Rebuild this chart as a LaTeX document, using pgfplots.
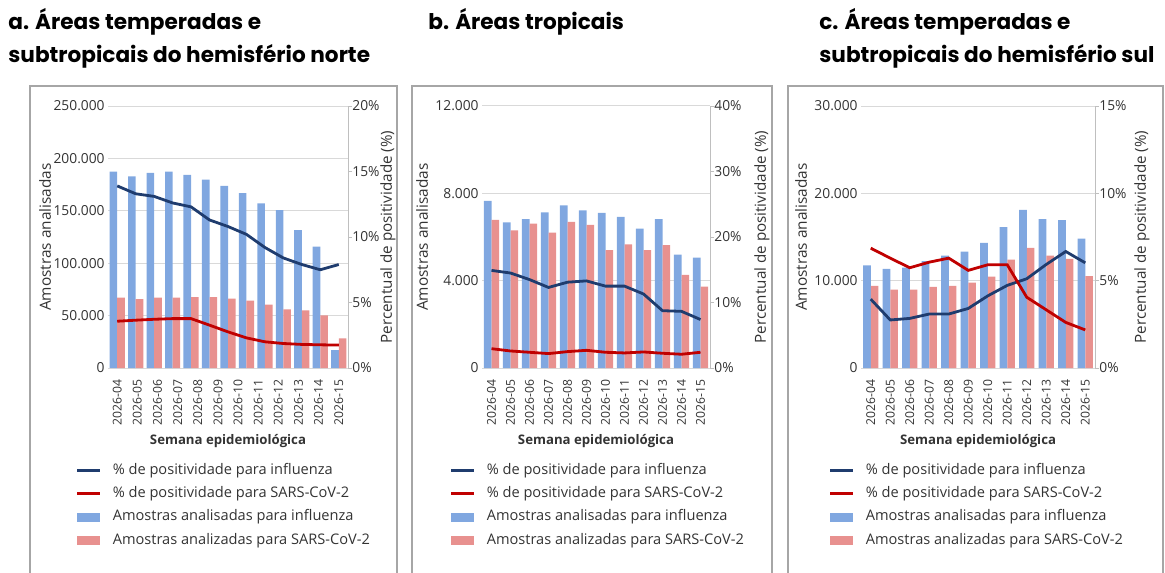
\documentclass[border=0pt]{standalone}
\usepackage{fontspec}
\setmainfont{Open Sans}
\newfontfamily\titlefont{Poppins}
\usepackage{pgfplots}
\pgfplotsset{compat=1.18}
\usepackage{pgfplotstable}

\definecolor{barblue}{HTML}{80A7E0}
\definecolor{barred}{HTML}{E8918F}
\definecolor{lineblue}{HTML}{1F3C6E}
\definecolor{linered}{HTML}{C00000}
\definecolor{gridgray}{HTML}{D9D9D9}
\definecolor{axgray}{HTML}{BFBFBF}
\definecolor{framegray}{HTML}{A6A6A6}
\definecolor{txt}{HTML}{333333}

\pgfplotstableread{
x flu sars pflu psars
0 187300 67100 13.9 3.57
1 182900 65800 13.3 3.65
2 186100 67100 13.1 3.72
3 187300 67100 12.6 3.77
4 184200 67700 12.3 3.77
5 179700 67700 11.3 3.27
6 173700 66100 10.8 2.76
7 166800 64200 10.2 2.30
8 157000 60400 9.2 2.00
9 150600 56000 8.4 1.87
10 131600 55100 7.9 1.80
11 115800 50300 7.5 1.77
12 17100 28200 7.9 1.75
}\dataA

\pgfplotstableread{
x flu sars pflu psars
0 7650 6780 14.9 2.95
1 6670 6300 14.5 2.6
2 6820 6610 13.5 2.4
3 7130 6200 12.3 2.2
4 7450 6690 13.1 2.5
5 7220 6550 13.3 2.7
6 7100 5400 12.5 2.4
7 6920 5660 12.5 2.3
8 6380 5400 11.3 2.45
9 6820 5630 8.75 2.25
10 5190 4260 8.65 2.1
11 5050 3730 7.4 2.4
}\dataB

\pgfplotstableread{
x flu sars pflu psars
0 11740 9390 3.94 6.86
1 11360 8980 2.75 6.29
2 11480 8980 2.84 5.74
3 12230 9280 3.09 6.06
4 12880 9390 3.09 6.29
5 13330 9770 3.41 5.59
6 14320 10450 4.13 5.91
7 16140 12420 4.73 5.91
8 18110 13750 5.11 4.05
9 17050 12880 5.93 3.33
10 16930 12500 6.67 2.61
11 14810 10530 6.02 2.18
}\dataC

\pgfplotsset{
  baraxis/.style={
    scale only axis, anchor=south west,
    axis x line*=bottom, axis y line*=left,
    axis line style={draw=none,-},
    major tick length=0pt,
    ymajorgrids, grid style={gridgray, line width=0.5pt},
    ymin=0, ybar=0pt, bar width=3.8pt,
    tick label style={font=\fontsize{6.9}{7}\selectfont, text=txt},
    scaled y ticks=false,
    xticklabel style={rotate=90, anchor=east, inner sep=0pt, font=\fontsize{6.1}{7}\selectfont},
    xticklabel shift=5.8pt,
    yticklabel style={inner sep=0pt},
    yticklabel shift=1.5pt,
    ylabel={Amostras analisadas},
    xlabel={Semana epidemiológica},
    label style={font=\fontsize{7.7}{8}\selectfont, text=txt},
    xlabel style={font=\bfseries\fontsize{6.6}{7}\selectfont, at={([yshift=-36.5pt]axis description cs:0.5,0)}, anchor=center},
  },
  lineaxis/.style={
    scale only axis, anchor=south west,
    axis x line=none, axis y line*=right,
    y axis line style={axgray, line width=0.5pt, -},
    ytick style={axgray, line width=0.5pt},
    tick align=outside, major tick length=2pt,
    ymin=0,
    tick label style={font=\fontsize{6.9}{7}\selectfont, text=txt},
    yticklabel style={inner sep=0pt},
    yticklabel shift=0pt,
    ylabel={Percentual de positividade (\%)},
    label style={font=\fontsize{7.6}{8}\selectfont, text=txt},
    legend cell align=left,
    legend style={at={([xshift=-16pt, yshift=-48pt]axis description cs:0,0)}, anchor=north west,
      draw=none, fill=none, inner sep=0pt, outer sep=0pt,
      font=\fontsize{7.3}{8}\selectfont, text=txt, row sep=5.3pt,
      nodes={inner sep=0pt, text height=5pt, text depth=1.4pt},
      /tikz/every odd column/.append style={column sep=5.5pt}},
  },
  linelegend/.style={legend image code/.code={\draw[##1] (0pt,0pt) -- (11.5pt,0pt);}},
  barlegend/.style={legend image code/.code={\fill[##1] (0pt,-2.3pt) rectangle (11.5pt,2.3pt);}},
}

\begin{document}
\begin{tikzpicture}
\useasboundingbox (0,0) rectangle (582.5pt,-286pt);
% panel frames
\draw[framegray, line width=0.6pt] (15pt,-300pt) -- (15pt,-43pt) -- (198.5pt,-43pt) -- (198.5pt,-300pt);
\draw[framegray, line width=0.6pt] (206pt,-300pt) -- (206pt,-43pt) -- (386pt,-43pt) -- (386pt,-300pt);
\draw[framegray, line width=0.6pt] (394pt,-300pt) -- (394pt,-43pt) -- (581.5pt,-43pt) -- (581.5pt,-300pt);
% titles
\node[anchor=west, align=left, inner sep=0pt, font=\titlefont\bfseries\fontsize{10.8}{16.5}\selectfont] at (4pt,-19.25pt) {a. Áreas temperadas e\\subtropicais do hemisfério norte};
\node[anchor=west, align=left, inner sep=0pt, font=\titlefont\bfseries\fontsize{10.8}{16.5}\selectfont] at (214pt,-11pt) {b. Áreas tropicais};
\node[anchor=west, align=left, inner sep=0pt, font=\titlefont\bfseries\fontsize{10.8}{16.5}\selectfont] at (409.5pt,-19.25pt) {c. Áreas temperadas e\\subtropicais do hemisfério sul};

% ---------- panel a ----------
\begin{axis}[baraxis, at={(54pt,-184pt)}, width=120pt, height=131pt,
  xmin=-0.5, xmax=12.5, ymax=250000, ytick={0,50000,100000,150000,200000,250000},
  yticklabels={0,50.000,100.000,150.000,200.000,250.000},
  xtick={0,1.0909,2.1818,3.2727,4.3636,5.4545,6.5455,7.6364,8.7273,9.8182,10.9091,12},
  xticklabels={2026-04,2026-05,2026-06,2026-07,2026-08,2026-09,2026-10,2026-11,2026-12,2026-13,2026-14,2026-15},
  ylabel style={at={([xshift=-31.5pt]axis description cs:0,0.5)}, anchor=center}]
\addplot[fill=barblue, draw=none] table[x=x,y=flu]{\dataA};
\addplot[fill=barred, draw=none] table[x=x,y=sars]{\dataA};
\end{axis}
\begin{axis}[lineaxis, at={(54pt,-184pt)}, width=120pt, height=131pt,
  xmin=-0.5, xmax=12.5, ymax=20, ytick={0,5,10,15,20},
  yticklabels={0\%,5\%,10\%,15\%,20\%},
  ylabel style={at={([xshift=20pt]axis description cs:1,0.5)}, anchor=center}]
\addplot[lineblue, line width=1.4pt, linelegend] table[x=x,y=pflu]{\dataA};
\addlegendentry{\% de positividade para influenza}
\addplot[linered, line width=1.4pt, linelegend] table[x=x,y=psars]{\dataA};
\addlegendentry{\% de positividade para SARS-CoV-2}
\addlegendimage{barlegend, fill=barblue, draw=none}
\addlegendentry{Amostras analisadas para influenza}
\addlegendimage{barlegend, fill=barred, draw=none}
\addlegendentry{Amostras analizadas para SARS-CoV-2}
\end{axis}

% ---------- panel b ----------
\begin{axis}[baraxis, at={(241pt,-184pt)}, width=114pt, height=131pt,
  xmin=-0.5, xmax=11.5, ymax=12000, ytick={0,4000,8000,12000},
  yticklabels={0,4.000,8.000,12.000},
  xtick={0,...,11},
  xticklabels={2026-04,2026-05,2026-06,2026-07,2026-08,2026-09,2026-10,2026-11,2026-12,2026-13,2026-14,2026-15},
  ylabel style={at={([xshift=-30pt]axis description cs:0,0.5)}, anchor=center}]
\addplot[fill=barblue, draw=none] table[x=x,y=flu]{\dataB};
\addplot[fill=barred, draw=none] table[x=x,y=sars]{\dataB};
\end{axis}
\begin{axis}[lineaxis, at={(241pt,-184pt)}, width=114pt, height=131pt,
  xmin=-0.5, xmax=11.5, ymax=40, ytick={0,10,20,30,40},
  yticklabels={0\%,10\%,20\%,30\%,40\%},
  ylabel style={at={([xshift=26pt]axis description cs:1,0.5)}, anchor=center}]
\addplot[lineblue, line width=1.4pt, linelegend] table[x=x,y=pflu]{\dataB};
\addlegendentry{\% de positividade para influenza}
\addplot[linered, line width=1.4pt, linelegend] table[x=x,y=psars]{\dataB};
\addlegendentry{\% de positividade para SARS-CoV-2}
\addlegendimage{barlegend, fill=barblue, draw=none}
\addlegendentry{Amostras analisadas para influenza}
\addlegendimage{barlegend, fill=barred, draw=none}
\addlegendentry{Amostras analizadas para SARS-CoV-2}
\end{axis}

% ---------- panel c ----------
\begin{axis}[baraxis, at={(430.5pt,-184pt)}, width=117pt, height=131pt,
  xmin=-0.5, xmax=11.5, ymax=30000, ytick={0,10000,20000,30000},
  yticklabels={0,10.000,20.000,30.000},
  xtick={0,...,11},
  xticklabels={2026-04,2026-05,2026-06,2026-07,2026-08,2026-09,2026-10,2026-11,2026-12,2026-13,2026-14,2026-15},
  ylabel style={at={([xshift=-30pt]axis description cs:0,0.5)}, anchor=center}]
\addplot[fill=barblue, draw=none] table[x=x,y=flu]{\dataC};
\addplot[fill=barred, draw=none] table[x=x,y=sars]{\dataC};
\end{axis}
\begin{axis}[lineaxis, at={(430.5pt,-184pt)}, width=117pt, height=131pt,
  xmin=-0.5, xmax=11.5, ymax=15, ytick={0,5,10,15},
  yticklabels={0\%,5\%,10\%,15\%},
  ylabel style={at={([xshift=23.5pt]axis description cs:1,0.5)}, anchor=center}]
\addplot[lineblue, line width=1.4pt, linelegend] table[x=x,y=pflu]{\dataC};
\addlegendentry{\% de positividade para influenza}
\addplot[linered, line width=1.4pt, linelegend] table[x=x,y=psars]{\dataC};
\addlegendentry{\% de positividade para SARS-CoV-2}
\addlegendimage{barlegend, fill=barblue, draw=none}
\addlegendentry{Amostras analisadas para influenza}
\addlegendimage{barlegend, fill=barred, draw=none}
\addlegendentry{Amostras analizadas para SARS-CoV-2}
\end{axis}
\end{tikzpicture}
\end{document}
